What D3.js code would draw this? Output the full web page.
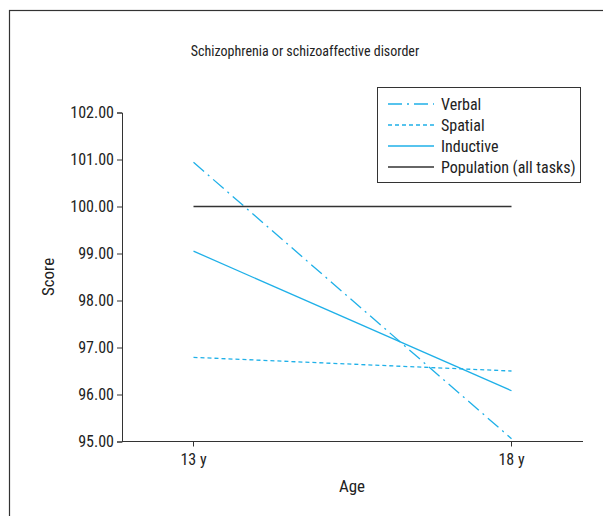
<!DOCTYPE html>
<html><head><meta charset="utf-8">
<script src="https://cdn.jsdelivr.net/npm/d3@7"></script>
<style>
body{margin:0;background:#fff;}
text{font-family:"Liberation Sans Narrow","Roboto Condensed","Liberation Sans",Arial,sans-serif;fill:#222;}
</style></head>
<body><svg id="c" width="603" height="516"></svg>
<script>
const ages = ["13 y", "18 y"];
const verbal = [100.94, 95.06];
const spatial = [96.79, 96.5];
const inductive = [99.05, 96.08];
const population = [100, 100];
const yTicks = [95, 96, 97, 98, 99, 100, 101, 102];
const seriesNames = ["Verbal", "Spatial", "Inductive", "Population (all tasks)"];

(function(){
const svg = d3.select("#c");
const cyan = "#1fb0e8";
const series = [
  {name: seriesNames[0], values: verbal, color: cyan, dash: "14,5,2,5"},
  {name: seriesNames[1], values: spatial, color: cyan, dash: "4,3"},
  {name: seriesNames[2], values: inductive, color: cyan, dash: null},
  {name: seriesNames[3], values: population, color: "#333", dash: null}
];

svg.append("rect").attr("x", 9.5).attr("y", 10.5).attr("width", 620).attr("height", 540)
  .attr("fill", "none").attr("stroke", "#333").attr("stroke-width", 1.2);

const pLeft = 122, pRight = 583, pTop = 112.5, pBottom = 441.5;
const xs = d3.scalePoint().domain(ages).range([193.5, 511.5]);
const y = d3.scaleLinear().domain([95, 102]).range([pBottom, pTop]);

const yAxis = d3.axisLeft(y).tickValues(yTicks).tickFormat(d3.format(".2f")).tickSize(5);
const gy = svg.append("g").attr("transform", `translate(${pLeft},0)`).call(yAxis);
gy.select(".domain").attr("stroke", "#333");
gy.selectAll(".tick line").attr("stroke", "#333");
gy.selectAll("text").attr("font-size", 16).attr("fill", "#222").attr("x", -8)
  .style("font-family", '"Liberation Sans Narrow","Roboto Condensed",sans-serif');

const gx = svg.append("g").attr("transform", `translate(0,${pBottom})`);
gx.append("line").attr("x1", pLeft).attr("x2", pRight).attr("stroke", "#333");
ages.forEach(a => {
  gx.append("line").attr("x1", xs(a)).attr("x2", xs(a)).attr("y1", 0).attr("y2", 5).attr("stroke", "#333");
  gx.append("text").attr("x", xs(a)).attr("y", 23).attr("text-anchor", "middle").attr("font-size", 16).text(a);
});

const line = d3.line().x((d, i) => xs(ages[i])).y(d => y(d));
series.forEach(s => {
  svg.append("path").datum(s.values).attr("d", line).attr("fill", "none")
    .attr("stroke", s.color).attr("stroke-width", 1.3)
    .attr("stroke-dasharray", s.dash);
});

svg.append("text").attr("x", 305).attr("y", 56).attr("text-anchor", "middle").attr("font-size", 14)
  .text("Schizophrenia or schizoaffective disorder");
svg.append("text").attr("x", 352).attr("y", 492).attr("text-anchor", "middle").attr("font-size", 17).text("Age");
svg.append("text").attr("transform", "translate(54,277) rotate(-90)").attr("text-anchor", "middle")
  .attr("font-size", 17).text("Score");

const lg = svg.append("g");
lg.append("rect").attr("x", 377.5).attr("y", 87.5).attr("width", 203).attr("height", 95)
  .attr("fill", "#fff").attr("stroke", "#333");
series.forEach((s, i) => {
  const yy = 104 + i * 21;
  lg.append("line").attr("x1", 388).attr("x2", 434).attr("y1", yy).attr("y2", yy)
    .attr("stroke", s.color).attr("stroke-width", 1.3).attr("stroke-dasharray", s.dash);
  lg.append("text").attr("x", 441).attr("y", yy + 5.5).attr("font-size", 16).text(s.name);
});
})();
</script></body></html>
